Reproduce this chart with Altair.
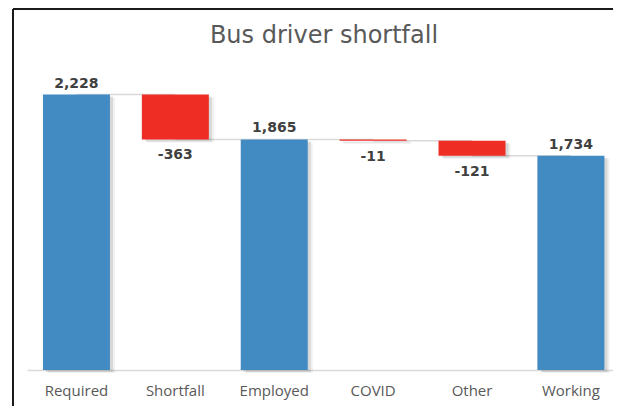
import altair as alt
import pandas as pd

categories = ["Required", "Shortfall", "Employed", "COVID", "Other", "Working"]
values = [2228, -363, 1865, -11, -121, 1734]
kinds = ["total", "delta", "total", "delta", "delta", "total"]
labels = ["2,228", "-363", "1,865", "-11", "-121", "1,734"]
title_text = "Bus driver shortfall"

# running totals
starts, ends = [], []
run = 0
for v, k in zip(values, kinds):
    if k == "total":
        s, e = 0, v
    else:
        s, e = run, run + v
    starts.append(s)
    ends.append(e)
    run = e

df = pd.DataFrame({"cat": categories, "start": starts, "end": ends,
                   "kind": kinds, "label": labels})
conn = pd.DataFrame({"a": categories[:-1], "b": categories[1:], "lvl": ends[:-1]})

BLUE = "#418AC2"
RED = "#EE2D24"
GRAY = "#595959"

xscale = alt.Scale(domain=categories, paddingInner=0.3225, paddingOuter=0.124, align=0.65)
yscale = alt.Scale(domain=[0, 2500])

xenc = alt.X("cat:N", scale=xscale, sort=categories, title=None,
             axis=alt.Axis(labelAngle=0, labelAlign="center", labelBaseline="top",
                           ticks=False, tickSize=0, domainColor="#D9D9D9",
                           domainWidth=1.5, labelColor=GRAY, labelFont="Open Sans",
                           labelFontSize=15, labelPadding=13, grid=False, bandPosition=0.5))
yenc_start = alt.Y("start:Q", scale=yscale, axis=None)

base = alt.Chart(df)

shadow1 = base.mark_bar(color="#000000", opacity=0.10, xOffset=3, yOffset=2, y2Offset=2).encode(
    x=xenc, y=yenc_start, y2="end:Q")
shadow2 = base.mark_bar(color="#000000", opacity=0.06, xOffset=5, yOffset=3, y2Offset=3).encode(
    x=xenc, y=yenc_start, y2="end:Q")

connectors = alt.Chart(conn).mark_rule(color="#D9D9D9", strokeWidth=1.5).encode(
    x=alt.X("a:N", scale=xscale, sort=categories, title=None),
    x2="b:N",
    y=alt.Y("lvl:Q", scale=yscale, axis=None),
)

bars = base.mark_bar().encode(
    x=xenc,
    y=yenc_start,
    y2="end:Q",
    color=alt.Color("kind:N", scale=alt.Scale(domain=["total", "delta"], range=[BLUE, RED]), legend=None),
)

top_labels = base.transform_filter(alt.datum.kind == "total").mark_text(
    baseline="bottom", dy=-4, font="DejaVu Sans", fontWeight="bold", fontSize=14, color="#404040"
).encode(x=xenc, y=alt.Y("end:Q", scale=yscale, axis=None), text="label:N")

bot_labels = base.transform_filter(alt.datum.kind == "delta").mark_text(
    baseline="top", dy=9, font="DejaVu Sans", fontWeight="bold", fontSize=14, color="#404040"
).encode(x=xenc, y=alt.Y("end:Q", scale=yscale, axis=None), text="label:N")

frame_df = pd.DataFrame({"t": [title_text]})
frame_left = alt.Chart(frame_df).mark_rule(color="#1A1A1A", strokeWidth=2).encode(
    x=alt.value(-14), y=alt.value(-52), y2=alt.value(400))
frame_top = alt.Chart(frame_df).mark_rule(color="#1A1A1A", strokeWidth=2).encode(
    x=alt.value(-14), x2=alt.value(700), y=alt.value(-52))
title = alt.Chart(frame_df).mark_text(
    font="DejaVu Sans", fontSize=24, color=GRAY, baseline="alphabetic", align="center"
).encode(x=alt.value(297), y=alt.value(-18), text="t:N")

chart = alt.layer(
    connectors, shadow2, shadow1, bars, top_labels, bot_labels, frame_left, frame_top, title
).properties(
    width=586, height=309,
    autosize=alt.AutoSizeParams(type="none"),
    padding={"left": 19, "top": 53, "right": 0, "bottom": 36},
    background="white",
).configure_view(stroke=None)

chart.save("out.html", embed_options={"renderer": "svg", "actions": False})
